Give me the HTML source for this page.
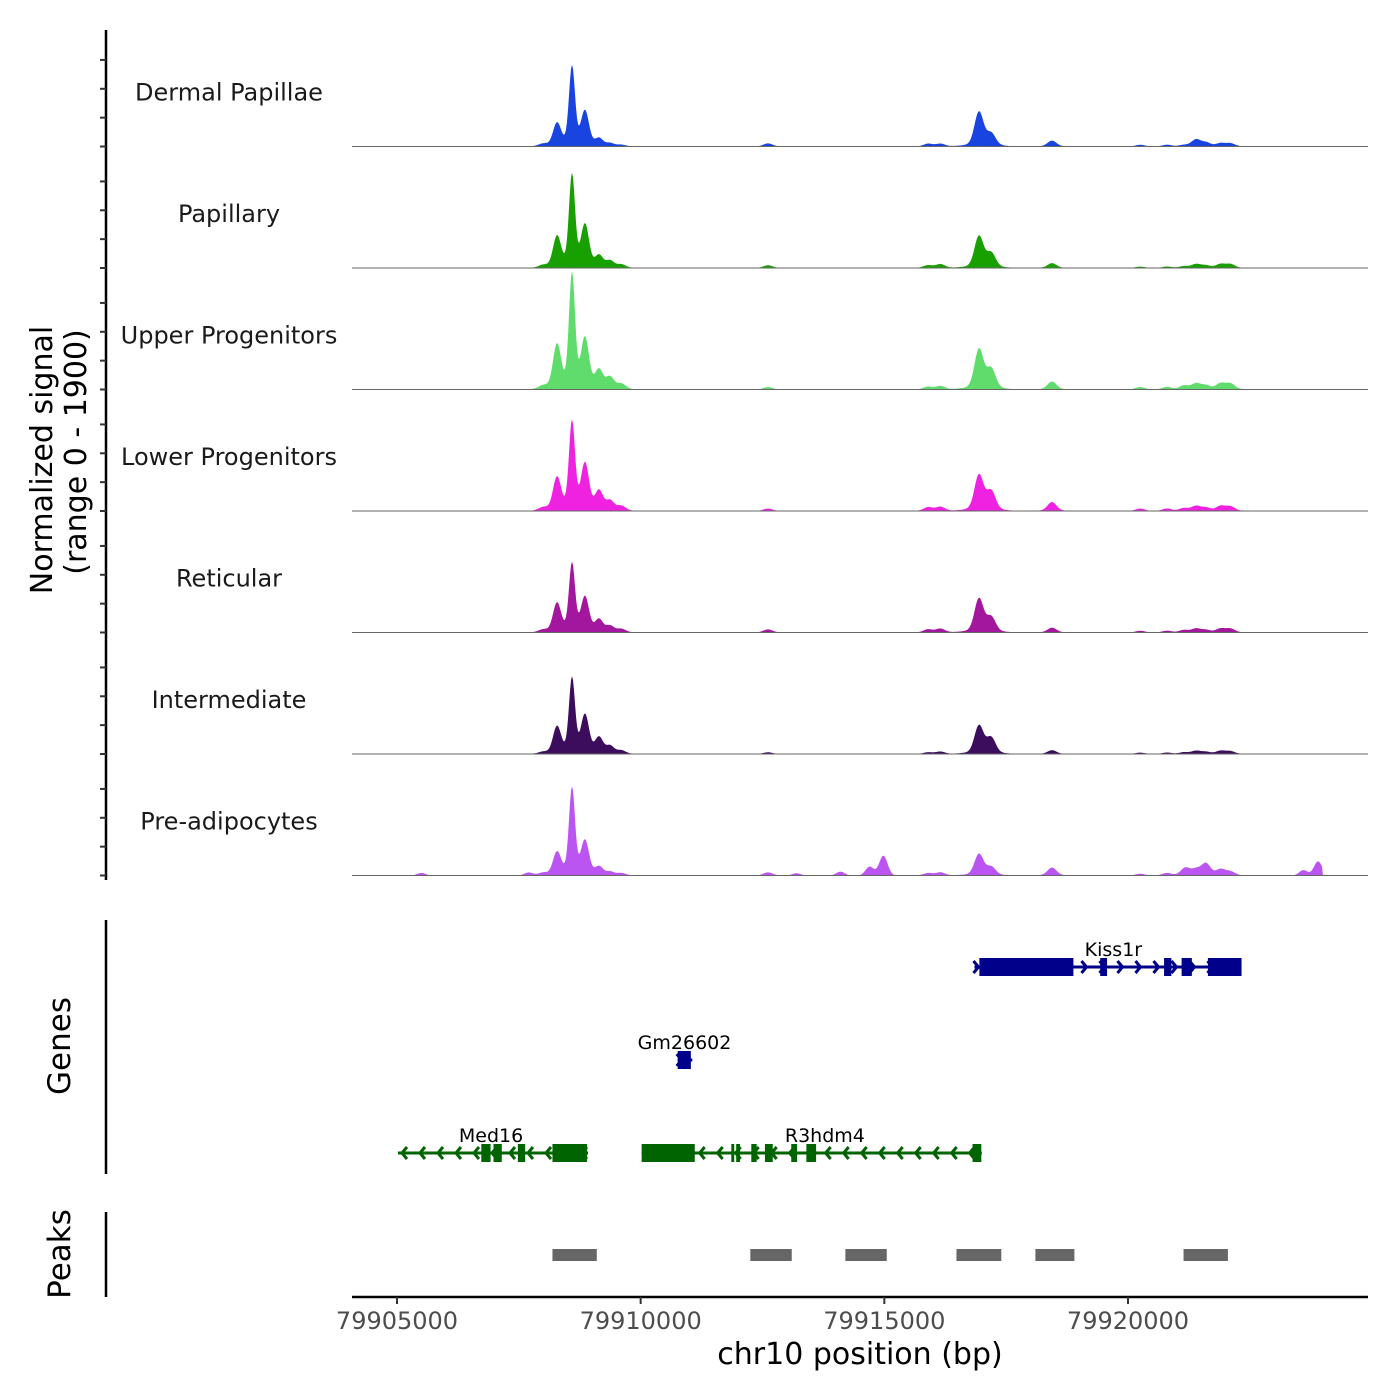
<!DOCTYPE html>
<html><head><meta charset="utf-8"><style>
html,body{margin:0;padding:0;background:#fff;}
svg{display:block;font-family:"DejaVu Sans","Liberation Sans",sans-serif;}
</style></head><body>
<svg id="chart" width="1400" height="1400" viewBox="0 0 1400 1400"></svg>
<script>
// ---- data ----
const xTicks = [79905000, 79910000, 79915000, 79920000];
const xTickLabels = ["79905000", "79910000", "79915000", "79920000"];
const trackNames = ["Dermal Papillae","Papillary","Upper Progenitors","Lower Progenitors","Reticular","Intermediate","Pre-adipocytes"];
const trackColors = ["#1a44e0","#17a000","#5fdc6c","#ee22e0","#a3169e","#3b0d5c","#bb55f2"];
// peak centres (bp)
const peakPos = [79908283,79908591,79908858,79909145,79909370,79912613,79915900,79916150,79916943,79917190,79918441,79920250,79920800,79921150,79921396,79921600,79921900,79922100,79908000,79909600];
// peak heights per track (signal units, range 0-1900)
const dermalVals   = [330,1150,500,110,45,45,40,40,500,180,85,25,25,20,100,55,45,45,35,25];
const papillaryVals= [450,1340,610,170,100,40,40,55,460,210,70,20,20,25,55,35,55,55,35,50];
const upperVals    = [640,1660,720,270,170,35,40,50,580,290,115,35,35,55,85,55,85,85,45,80];
const lowerVals    = [480,1280,670,280,140,35,55,60,520,280,130,35,35,40,70,45,70,65,45,70];
const reticularVals= [420,990,500,180,90,45,45,55,490,215,70,25,25,35,55,35,55,55,35,50];
const intermVals   = [390,1090,550,230,110,25,25,35,410,230,55,20,20,25,45,30,45,40,25,50];
const preadipVals  = [330,1260,490,120,50,45,35,45,310,120,115,25,35,55,85,170,85,55,35,35];
const trackVals = [dermalVals,papillaryVals,upperVals,lowerVals,reticularVals,intermVals,preadipVals];
// extra pre-adipocyte bumps
const preExtraPos  = [79905500,79907700,79913200,79914100,79914700,79914980,79921200,79923600,79923900];
const preExtraVals = [40,45,35,60,140,310,60,85,220];
const maxSignal = 1900;
// genes
const genes = [
 {name:"Kiss1r", start:79916850, end:79922250, strand:"+", row:0, color:"#00008b", labelPos:79919700,
  exons:[[79916950,79918880],[79919430,79919570],[79920740,79920890],[79921100,79921310],[79921640,79922330]]},
 {name:"Gm26602", start:79910760, end:79911060, strand:"+", row:1, color:"#00008b", labelPos:79910900,
  exons:[[79910760,79911030]]},
 {name:"Med16", start:79905020, end:79908920, strand:"-", row:2, color:"#006400", labelPos:79906930,
  exons:[[79906730,79906920],[79906980,79907150],[79907480,79907630],[79908190,79908900]]},
 {name:"R3hdm4", start:79910020, end:79917000, strand:"-", row:2, color:"#006400", labelPos:79913780,
  exons:[[79910020,79911110],[79911860,79911920],[79911960,79912040],[79912270,79912380],[79912550,79912710],[79913090,79913210],[79913400,79913600],[79916810,79916990]]}
];
const peakStarts = [79908190,79912250,79914200,79916480,79918100,79921140];
const peakEnds   = [79909100,79913100,79915050,79917400,79918900,79922050];

// ---- scales ----
const NS="http://www.w3.org/2000/svg";
const svg=document.getElementById('chart');
const bpToX = bp => 397 + (bp - 79905000) * (731/15000);
const plotL=352, plotR=1368;
const trackTop0=25, trackH=121.5;
function el(tag, attrs, parent){const e=document.createElementNS(NS,tag);for(const k in attrs)e.setAttribute(k,attrs[k]);(parent||svg).appendChild(e);return e;}

// tracks
for(let t=0;t<trackNames.length;t++){
  const base=trackTop0+trackH*(t+1);
  const vToY = v => base - v*(trackH/maxSignal);
  const vals=trackVals[t];
  const g=el('g',{});
  
  
  let d='M'+plotL+','+base;
  const endX = t===6||t===5 ? bpToX(79924000) : bpToX(79922700);
  for(let x=plotL;x<=plotR;x+=1){
    const bp=79905000+(x-397)*15000/731;
    let v=0;
    for(let i=0;i<peakPos.length;i++){
      const s=(i===1?60:(i<5?80:90));
      const dz=(bp-peakPos[i])/s;v+=vals[i]*Math.exp(-0.5*dz*dz);
      const dz2=(bp-peakPos[i])/(s*3);v+=vals[i]*0.08*Math.exp(-0.5*dz2*dz2);
    }
    if(t===6){for(let i=0;i<preExtraPos.length;i++){const dz=(bp-preExtraPos[i])/85;v+=preExtraVals[i]*Math.exp(-0.5*dz*dz);}}
    if(x<400||x>endX) v=0;
    d+=' L'+x+','+vToY(v).toFixed(2);
  }
  d+=' L'+plotR+','+base+' Z';
  const p=el('path',{d:d,fill:trackColors[t],stroke:'none'},g);
  
  
  const bl=el('line',{x1:plotL,x2:plotR,y1:base,y2:base,stroke:'#666',"stroke-width":1},g);
  
  
  const lab=el('text',{x:229,y:base-46,"text-anchor":"middle","font-size":24,fill:'#1a1a1a'},g);
  lab.textContent=trackNames[t];
  
  
}
// left axis for signal
const ax=el('line',{x1:106,x2:106,y1:30,y2:880,stroke:'#000',"stroke-width":2.5});


for(let t=0;t<7;t++){
  const base=trackTop0+trackH*(t+1);
  for(let k=0;k<4;k++){
    const y=base-k*(trackH*0.2375);
    const tk=el('line',{x1:100,x2:106,y1:y,y2:y,stroke:'#333',"stroke-width":2});
    
    
  }
}
const yt1=el('text',{x:0,y:0,transform:'translate(52,460) rotate(-90)',"text-anchor":"middle","font-size":30,fill:'#000'});
yt1.textContent='Normalized signal';


const yt2=el('text',{x:0,y:0,transform:'translate(86,452) rotate(-90)',"text-anchor":"middle","font-size":30,fill:'#000'});
yt2.textContent='(range 0 - 1900)';



// genes panel
const ga=el('line',{x1:106,x2:106,y1:920,y2:1174,stroke:'#000',"stroke-width":2.5});


const gt=el('text',{x:0,y:0,transform:'translate(70,1046) rotate(-90)',"text-anchor":"middle","font-size":31,fill:'#000'});
gt.textContent='Genes';


const rowY=[967,1060,1153];
genes.forEach(g=>{
  const y=rowY[g.row];
  const grp=el('g',{});
  
  
  const x1=bpToX(g.start), x2=bpToX(g.end);
  el('line',{x1:x1,x2:x2,y1:y,y2:y,stroke:g.color,"stroke-width":3},grp);
  const step=18;
  for(let x=x1+4;x<x2-3;x+=step){
    const dx=g.strand==='+'?-5:5;
    el('polyline',{points:(x+dx)+','+(y-6)+' '+x+','+y+' '+(x+dx)+','+(y+6),fill:'none',stroke:g.color,"stroke-width":3},grp);
  }
  g.exons.forEach(e=>{
    const r=el('rect',{x:bpToX(e[0]),y:y-9,width:bpToX(e[1])-bpToX(e[0]),height:18,fill:g.color},grp);
    
    
  });
  const tx=el('text',{x:bpToX(g.labelPos),y:y-11,"text-anchor":"middle","font-size":19,fill:'#000'},grp);
  tx.textContent=g.name;
  
  
});

// peaks panel
const pa=el('line',{x1:106,x2:106,y1:1212,y2:1297,stroke:'#000',"stroke-width":2.5});


const pt=el('text',{x:0,y:0,transform:'translate(70,1254) rotate(-90)',"text-anchor":"middle","font-size":31,fill:'#000'});
pt.textContent='Peaks';


for(let i=0;i<peakStarts.length;i++){
  const r=el('rect',{x:bpToX(peakStarts[i]),y:1249,width:bpToX(peakEnds[i])-bpToX(peakStarts[i]),height:12,fill:'#666'});
  
  
}

// x axis
const xa=el('line',{x1:plotL,x2:plotR,y1:1297,y2:1297,stroke:'#000',"stroke-width":2.5});


xTicks.forEach((v,i)=>{
  const x=bpToX(v);
  const tk=el('line',{x1:x,x2:x,y1:1297,y2:1304,stroke:'#333',"stroke-width":2});
  
  
  const tl=el('text',{x:x,y:1329,"text-anchor":"middle","font-size":24,fill:'#4d4d4d'});
  tl.textContent=xTickLabels[i];
  
  
});
const xt=el('text',{x:860,y:1364,"text-anchor":"middle","font-size":30,fill:'#000'});
xt.textContent='chr10 position (bp)';


</script>
</body></html>
